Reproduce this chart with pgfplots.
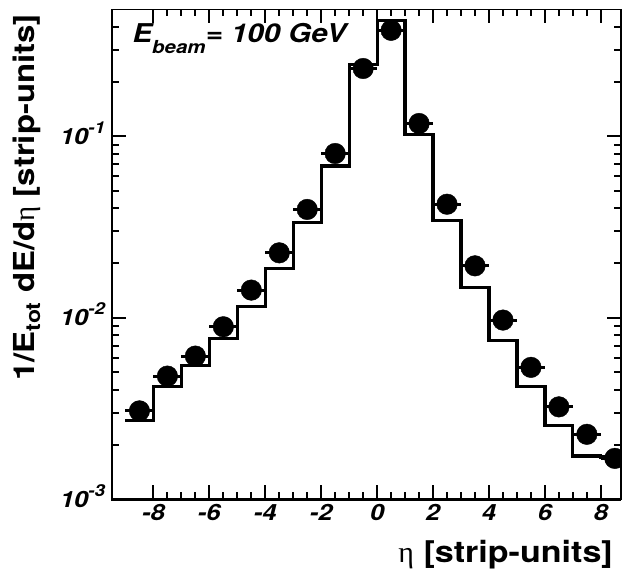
\documentclass[border=0pt]{standalone}
\usepackage{pgfplots}
\usepackage{pgfplotstable}
\pgfplotsset{compat=1.18}
\usepackage{fontspec}
\setmainfont{TeX Gyre Heros}[FakeStretch=1.14]
\newfontfamily\greek{Liberation Serif}

% power-of-ten tick label with a raised exponent
\newcommand\tenexp[1]{10\raisebox{11bp}{\fontsize{16.5}{16.5}\selectfont #1}}

% simulated shower profile: left bin edge and bin content
\pgfplotstableread{
xl    y
-9    0.00271
-8    0.00417
-7    0.00548
-6    0.00770
-5    0.01149
-4    0.01870
-3    0.03332
-2    0.0686
-1    0.248
0     0.435
1     0.1022
2     0.0345
3     0.01469
4     0.00747
5     0.00420
6     0.00256
7     0.00173
8     0.00171
9     0.00171
}\histo

% measured profile: strip low edge, centre, high edge, value
\pgfplotstableread{
lo    x     hi    y
-9    -8.5  -8    0.00307
-8    -7.5  -7    0.00477
-7    -6.5  -6    0.00615
-6    -5.5  -5    0.00892
-5    -4.5  -4    0.01420
-4    -3.5  -3    0.02279
-3    -2.5  -2    0.0395
-2    -1.5  -1    0.0803
-1    -0.5   0    0.236
0      0.5   1    0.383
1      1.5   2    0.1175
2      2.5   3    0.0422
3      3.5   4    0.01932
4      4.5   5    0.00971
5      5.5   6    0.00533
6      6.5   7    0.00323
7      7.5   8    0.00228
8      8.5   9    0.00168
}\meas

\begin{document}
\begin{tikzpicture}
\useasboundingbox (-112.3bp,-81.7bp) rectangle (509.7bp,499.3bp);
\begin{axis}[
  anchor=south west, at={(0,0)},
  scale only axis, width=508.7bp, height=490bp,
  ymode=log,
  xmin=-9.47, xmax=8.72, ymin=1e-3, ymax=0.5,
  xtick={-8,-6,...,8}, xticklabels={-8,-6,-4,-2,0,2,4,6,8},
  minor x tick num=3,
  ytick={1e-3,1e-2,1e-1},
  yticklabels={\tenexp{-3},\tenexp{-2},\tenexp{-1}},
  minor ytick={0.002,0.003,0.004,0.005,0.006,0.007,0.008,0.009,
               0.02,0.03,0.04,0.05,0.06,0.07,0.08,0.09,0.2,0.3,0.4},
  tick align=inside,
  major tick length=14bp, minor tick length=7bp,
  every tick/.style={line width=2bp, black},
  axis line style={line width=1.5bp},
  tick label style={font=\fontsize{22.5}{22.5}\selectfont\bfseries\itshape, inner sep=0pt},
  xticklabel style={anchor=base, yshift=-21.4bp},
  yticklabel style={anchor=base east, xshift=-7bp, yshift=-8bp},
]
\addplot[const plot mark left, line width=3.2bp, black] table[x=xl, y=y] {\histo};
% horizontal bars across each strip
\pgfplotsinvokeforeach{0,...,17}{
  \pgfplotstablegetelem{#1}{lo}\of\meas \let\xlo\pgfplotsretval
  \pgfplotstablegetelem{#1}{hi}\of\meas \let\xhi\pgfplotsretval
  \pgfplotstablegetelem{#1}{y}\of\meas \let\yv\pgfplotsretval
  \edef\seg{\noexpand\addplot[black, line width=3bp, forget plot]
    coordinates {(\xlo,\yv) (\xhi,\yv)};}
  \seg
}
\addplot[only marks, mark=*, mark size=10.3bp, black] table[x=x, y=y] {\meas};
\end{axis}
% heavier frame on the left and bottom
\draw[line width=2bp] (0,0) -- (0,490bp);
\draw[line width=3.5bp] (-1bp,0) -- (508.7bp,0);
\node[anchor=base west, inner sep=0, font=\fontsize{26}{26}\selectfont\bfseries\itshape]
  at (20bp,456.6bp) {E\raisebox{-10.6bp}{\fontsize{18}{18}\selectfont beam}= 100 GeV};
\node[anchor=base east, inner sep=0, font=\fontsize{30}{30}\selectfont\bfseries]
  at (500.7bp,-63.4bp) {{\greek\mdseries η} [strip-units]};
\node[rotate=90, anchor=base east, inner sep=0, font=\fontsize{29}{29}\selectfont\bfseries]
  at (-77.3bp,485.3bp) {1/E\textsubscript{tot} dE/d{\greek\mdseries η} [strip-units]};
\end{tikzpicture}
\end{document}
